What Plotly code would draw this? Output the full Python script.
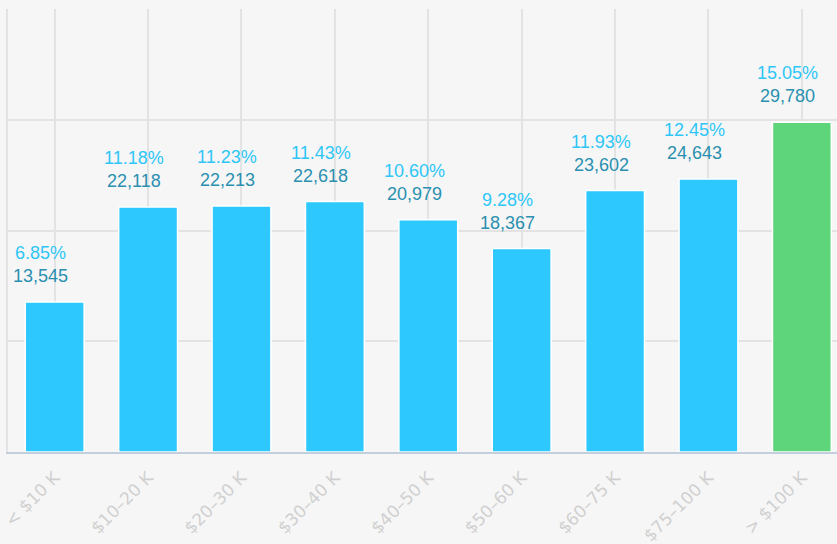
import plotly.graph_objects as go

categories = ["< $10 K", "$10–20 K", "$20–30 K", "$30–40 K", "$40–50 K",
              "$50–60 K", "$60–75 K", "$75–100 K", "> $100 K"]
counts = [13545, 22118, 22213, 22618, 20979, 18367, 23602, 24643, 29780]
percents = ["6.85%", "11.18%", "11.23%", "11.43%", "10.60%",
            "9.28%", "11.93%", "12.45%", "15.05%"]
bar_colors = ["#2dc8fd"] * 8 + ["#5fd57b"]

fig = go.Figure()
fig.add_trace(go.Bar(
    x=categories, y=counts,
    marker=dict(color=bar_colors, line=dict(color="#ffffff", width=1.5)),
    hoverinfo="skip",
))

for cat, val, pct in zip(categories, counts, percents):
    fig.add_annotation(x=cat, y=val, text=pct, showarrow=False,
                       xshift=-14, yshift=49, yanchor="middle",
                       font=dict(family="Liberation Sans, Arial", size=18, color="#2ec6f7"))
    fig.add_annotation(x=cat, y=val, text=f"{val:,}", showarrow=False,
                       xshift=-14, yshift=26, yanchor="middle",
                       font=dict(family="Liberation Sans, Arial", size=18, color="#2b90b0"))

fig.update_layout(
    width=837, height=544,
    margin=dict(l=8, r=0, t=9, b=92, autoexpand=False),
    paper_bgcolor="#f6f6f6", plot_bgcolor="#f6f6f6",
    bargap=0.37, showlegend=False,
    xaxis=dict(
        range=[-0.5, 8.376], showgrid=True, gridcolor="#e3e3e3", gridwidth=2,
        tickangle=-45, ticks="", showline=True, linecolor="#c3cfdc", linewidth=2,
        ticklabelstandoff=7, automargin=False,
        tickfont=dict(family="DejaVu Sans", size=17, color="#d0d0d0"),
    ),
    yaxis=dict(
        range=[0, 40000], dtick=10000, showgrid=True, gridcolor="#e3e3e3", gridwidth=2,
        showticklabels=False, ticks="", zeroline=False, automargin=False,
        showline=True, linecolor="#e3e3e3", linewidth=2,
    ),
)

fig.write_html(
    "out.html",
    config={"displayModeBar": False},
    post_script="document.body.style.margin='0';document.body.style.background='#f6f6f6';",
)
